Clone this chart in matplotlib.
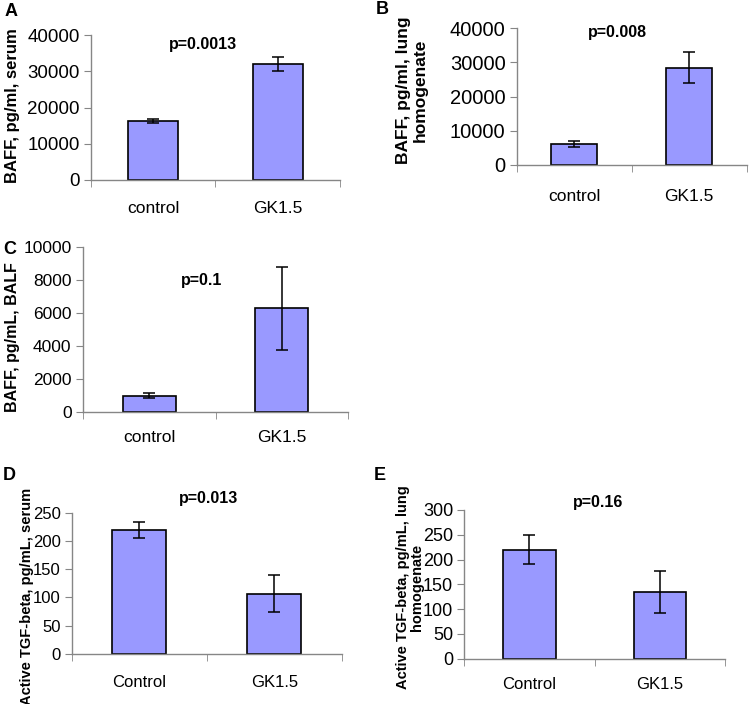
import matplotlib.pyplot as plt
from matplotlib.ticker import FixedLocator

plt.rcParams['font.family'] = ['Liberation Sans', 'DejaVu Sans']

# -----------------------------
# Data
# -----------------------------
groups_baff = ["control", "GK1.5"]
groups_tgf = ["Control", "GK1.5"]

baff_serum = [16300, 32000]
baff_serum_err = [600, 1800]

baff_lung = [6100, 28500]
baff_lung_err = [850, 4600]

baff_balf = [1000, 6270]
baff_balf_err = [150, 2520]

tgf_serum = [219, 107]
tgf_serum_err = [14, 33]

tgf_lung = [220, 134]
tgf_lung_err = [29, 42]

W, H = 750, 704
fig = plt.figure(figsize=(W / 100, H / 100), dpi=100)
bar_color = "#9999ff"
axis_gray = "#868686"


def add_panel(box, groups, vals, errs, ymax, ystep, ylabel, ptext, pxy, letter, lxy,
              ytick_fs=13, xtick_fs=12.5, ylab_fs=12, ylab_x=12, ylab_y=None,
              ls=1.0, xpad=14):
    # box = (left, right, top, bottom) in pixels
    l, r, t, b = box
    ax = fig.add_axes([l / W, 1 - b / H, (r - l) / W, (b - t) / H])
    x = range(len(groups))
    ax.bar(x, vals, width=0.4, color=bar_color, edgecolor="black", linewidth=1.2, zorder=2)
    ax.errorbar(x, vals, yerr=errs, fmt="none", ecolor="black", elinewidth=1.1,
                capsize=4, capthick=1.1, zorder=3)
    ax.set_xlim(-0.5, len(groups) - 0.5)
    ax.set_ylim(0, ymax)
    ax.set_yticks(range(0, ymax + 1, ystep))
    ax.set_xticks(list(x))
    ax.set_xticklabels(groups, fontsize=xtick_fs)
    ax.xaxis.set_minor_locator(FixedLocator([-0.5, 0.5, 1.5]))
    ax.tick_params(axis="x", which="major", length=0, pad=xpad)
    ax.tick_params(axis="x", which="minor", length=5, color=axis_gray, direction="out")
    ax.tick_params(axis="y", length=5, color=axis_gray, labelsize=ytick_fs, pad=3)
    for s in ["top", "right"]:
        ax.spines[s].set_visible(False)
    for s in ["left", "bottom"]:
        ax.spines[s].set_color(axis_gray)
        ax.spines[s].set_linewidth(1.0)
    if ylab_y is None:
        ylab_y = (t + b) / 2
    fig.text(ylab_x / W, 1 - ylab_y / H, ylabel, rotation=90, fontsize=ylab_fs,
             fontweight="bold", ha="center", va="center", linespacing=ls)
    fig.text(pxy[0] / W, 1 - pxy[1] / H, ptext, fontsize=11.5, fontweight="bold",
             ha="center", va="center")
    fig.text(lxy[0] / W, 1 - lxy[1] / H, letter, fontsize=13, fontweight="bold",
             ha="left", va="center")
    return ax


add_panel((90.7, 340, 35, 180), groups_baff, baff_serum, baff_serum_err, 40000, 10000,
          "BAFF, pg/ml, serum", "p=0.0013", (203, 45), "A", (5, 12),
          ytick_fs=13.5, ylab_fs=12, ylab_x=13, ylab_y=106, xpad=15)
add_panel((516.7, 746.7, 28.3, 165), groups_baff, baff_lung, baff_lung_err, 40000, 10000,
          "BAFF, pg/ml, lung\nhomogenate", "p=0.008", (617, 33), "B", (376, 9),
          ytick_fs=14.5, ylab_fs=12.5, ylab_x=412, ylab_y=90, ls=1.15, xpad=17)
add_panel((82.7, 348.3, 246.7, 412.3), groups_baff, baff_balf, baff_balf_err, 10000, 2000,
          "BAFF, pg/mL, BALF", "p=0.1", (202, 280), "C", (3, 249),
          ytick_fs=12.5, ylab_fs=11.5, ylab_x=13, ylab_y=337, xpad=13)
add_panel((71.7, 341.7, 512.7, 654), groups_tgf, tgf_serum, tgf_serum_err, 250, 50,
          "Active TGF-beta, pg/mL, serum", "p=0.013", (209, 498), "D", (3, 475),
          ytick_fs=12, xtick_fs=12, ylab_fs=10.5, ylab_x=27, ylab_y=596, xpad=15)
add_panel((464.3, 725, 510, 658.7), groups_tgf, tgf_lung, tgf_lung_err, 300, 50,
          "Active TGF-beta, pg/mL, lung\nhomogenate", "p=0.16", (598, 503), "E", (374, 475),
          ytick_fs=13, xtick_fs=12, ylab_fs=10.5, ylab_x=410, ylab_y=587, ls=1.0, xpad=13)

fig.savefig("out.png", dpi=100)
